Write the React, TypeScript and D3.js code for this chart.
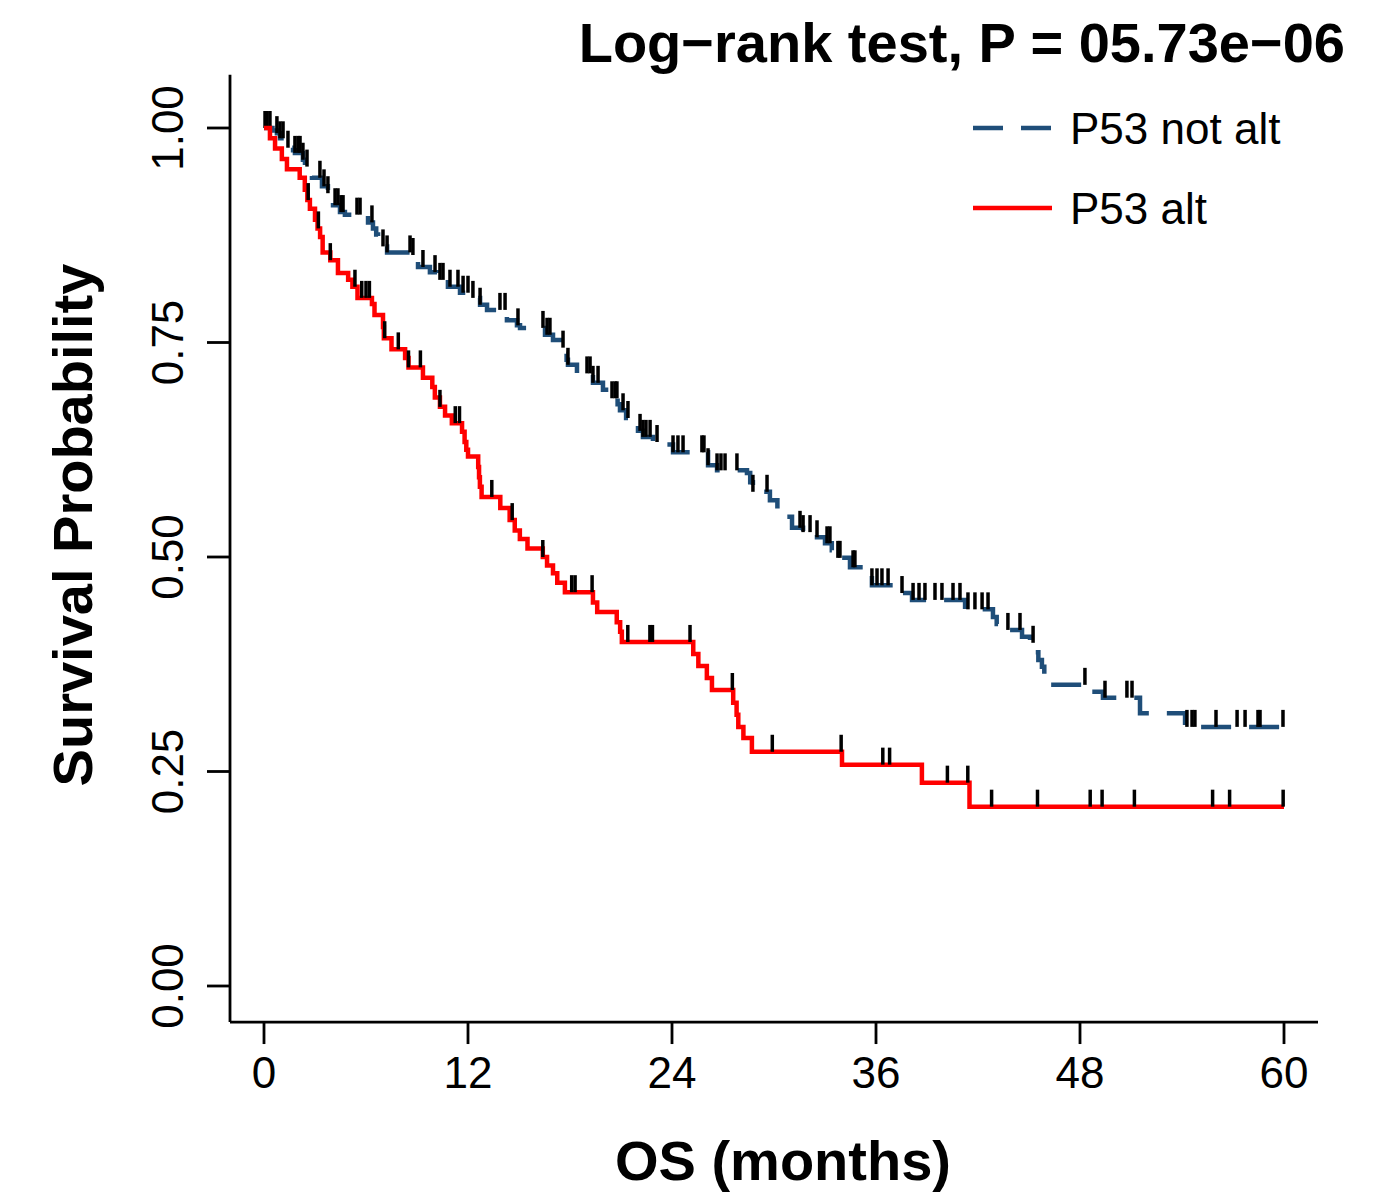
import React, { useEffect, useRef } from 'react';
import * as d3 from 'd3';

const xTicks = [0, 12, 24, 36, 48, 60];
const yTicks = [0, 0.25, 0.5, 0.75, 1];
const yTickLabels = ['0.00', '0.25', '0.50', '0.75', '1.00'];
const seriesNames = ['P53 not alt', 'P53 alt'];

// P53 not alt: event times (months) and survival after each event
const notAltTimes = [0.5, 0.76, 0.94, 1.2, 1.41, 1.71, 1.82, 2.29, 2.41, 2.6, 2.82, 3.41, 3.76, 3.95, 4.06, 4.47, 4.76, 6.12, 6.41, 6.6, 6.71, 7.0, 7.24, 8.71, 8.9, 9.06, 9.76, 10.18, 10.82, 11.53, 12.12, 12.71, 13.12, 14.29, 14.88, 15.06, 16.53, 17.0, 17.59, 17.7, 17.8, 17.88, 18.41, 19.35, 19.94, 20.47, 20.8, 20.94, 21.3, 21.65, 22.0, 22.29, 22.88, 23.29, 24.06, 26.12, 26.65, 28.41, 28.6, 28.76, 29.76, 30.2, 30.53, 31.06, 31.71, 32.24, 33.0, 33.4, 33.76, 34.47, 35.47, 35.76, 37.29, 38.12, 41.24, 42.88, 43.1, 43.29, 44.59, 45.06, 45.35, 45.55, 45.76, 45.9, 46.06, 48.59, 49.35, 51.53, 54.18];
const notAltSurv = [0.997, 0.994, 0.988, 0.982, 0.977, 0.974, 0.971, 0.963, 0.955, 0.948, 0.942, 0.932, 0.924, 0.917, 0.91, 0.902, 0.899, 0.89, 0.883, 0.876, 0.869, 0.862, 0.855, 0.852, 0.845, 0.838, 0.832, 0.823, 0.815, 0.808, 0.802, 0.794, 0.788, 0.776, 0.77, 0.767, 0.759, 0.753, 0.744, 0.737, 0.73, 0.724, 0.714, 0.703, 0.695, 0.685, 0.678, 0.671, 0.662, 0.654, 0.647, 0.64, 0.634, 0.631, 0.622, 0.607, 0.601, 0.598, 0.587, 0.576, 0.566, 0.556, 0.547, 0.534, 0.529, 0.523, 0.516, 0.508, 0.499, 0.488, 0.479, 0.467, 0.458, 0.45, 0.439, 0.43, 0.422, 0.415, 0.407, 0.4, 0.389, 0.38, 0.372, 0.361, 0.351, 0.343, 0.336, 0.318, 0.302];
const notAltCensor = [0.06, 0.18, 0.35, 0.76, 0.94, 1.12, 1.41, 1.82, 2.0, 2.12, 2.29, 2.53, 3.29, 3.53, 3.76, 4.18, 4.35, 4.53, 4.65, 5.47, 5.65, 6.35, 7.0, 7.24, 8.59, 8.76, 9.35, 10.06, 10.35, 10.53, 10.94, 11.41, 11.71, 12.0, 12.29, 12.71, 13.88, 14.18, 14.94, 16.41, 16.65, 16.82, 17.59, 17.88, 19.0, 19.18, 19.35, 19.65, 20.47, 20.65, 20.76, 21.12, 21.41, 22.12, 22.29, 22.47, 22.71, 23.12, 24.06, 24.35, 24.65, 25.76, 25.88, 26.12, 26.65, 26.88, 27.12, 27.82, 28.76, 29.59, 31.53, 31.71, 32.12, 32.53, 33.12, 33.29, 33.76, 33.88, 34.65, 34.76, 35.76, 36.06, 36.35, 36.71, 37.53, 38.18, 38.53, 38.88, 39.47, 39.88, 40.53, 40.94, 41.41, 41.82, 42.24, 42.59, 43.76, 44.47, 45.24, 48.29, 49.47, 50.76, 51.06, 54.29, 54.59, 54.76, 56.0, 57.24, 57.71, 58.47, 58.59, 59.94];

// P53 alt
const altTimes = [0.35, 0.65, 1.05, 1.35, 2.1, 2.4, 2.55, 2.7, 3.0, 3.15, 3.3, 3.45, 3.9, 4.35, 4.95, 5.2, 5.5, 6.35, 6.5, 7.0, 7.05, 7.5, 8.3, 8.5, 9.35, 9.9, 10.05, 10.35, 10.65, 11.05, 11.65, 11.8, 11.9, 12.0, 12.6, 12.65, 12.7, 12.8, 13.9, 14.45, 14.75, 15.05, 15.5, 16.4, 16.65, 17.0, 17.25, 17.7, 19.35, 19.6, 20.75, 20.95, 21.05, 25.25, 25.55, 26.05, 26.35, 27.6, 27.8, 27.9, 28.2, 28.7, 34.0, 38.7, 41.5];
const altSurv = [0.988, 0.976, 0.964, 0.952, 0.942, 0.928, 0.916, 0.906, 0.893, 0.883, 0.873, 0.855, 0.846, 0.831, 0.823, 0.815, 0.802, 0.795, 0.782, 0.768, 0.755, 0.742, 0.732, 0.721, 0.709, 0.698, 0.686, 0.675, 0.665, 0.656, 0.646, 0.634, 0.625, 0.617, 0.605, 0.593, 0.582, 0.57, 0.557, 0.543, 0.531, 0.521, 0.51, 0.5, 0.49, 0.481, 0.47, 0.459, 0.447, 0.436, 0.424, 0.413, 0.401, 0.387, 0.373, 0.359, 0.345, 0.33, 0.316, 0.302, 0.289, 0.273, 0.258, 0.237, 0.209];
const altCensor = [2.6, 3.2, 3.9, 5.35, 5.75, 6.0, 6.2, 7.1, 7.9, 8.5, 9.2, 10.35, 11.25, 11.5, 13.4, 14.6, 16.4, 18.1, 18.3, 19.3, 21.4, 22.7, 22.85, 25.06, 27.55, 29.9, 33.95, 36.4, 36.8, 40.2, 41.4, 42.8, 45.5, 48.6, 49.3, 51.2, 55.8, 56.8, 59.95];

const FONT = '"Liberation Sans", Arial, Helvetica, sans-serif';

const App = () => {
  const ref = useRef(null);

  useEffect(() => {
    document.body.style.margin = '0';
    const svg = d3.select(ref.current);
    svg.selectAll('*').remove();

    const x = d3.scaleLinear().domain([0, 60]).range([264, 1284]);
    const y = d3.scaleLinear().domain([0, 1]).range([986, 128]);

    // axes (R style "L" box)
    const axisLeft = x(-2);
    const axisBottom = y(-0.042);
    svg.append('line')
      .attr('x1', axisLeft).attr('x2', axisLeft)
      .attr('y1', y(1.062)).attr('y2', axisBottom)
      .attr('stroke', '#000').attr('stroke-width', 2.8);
    svg.append('line')
      .attr('x1', axisLeft).attr('x2', x(62))
      .attr('y1', axisBottom).attr('y2', axisBottom)
      .attr('stroke', '#000').attr('stroke-width', 2.8);

    svg.selectAll('.ytick').data(yTicks).enter().append('line')
      .attr('x1', axisLeft - 23).attr('x2', axisLeft)
      .attr('y1', d => y(d)).attr('y2', d => y(d))
      .attr('stroke', '#000').attr('stroke-width', 2.8);
    svg.selectAll('.ylab').data(yTicks).enter().append('text')
      .attr('transform', d => `translate(183,${y(d)}) rotate(-90)`)
      .attr('text-anchor', 'middle')
      .style('font-family', FONT).style('font-size', '44px')
      .text((d, i) => yTickLabels[i]);

    svg.selectAll('.xtick').data(xTicks).enter().append('line')
      .attr('x1', d => x(d)).attr('x2', d => x(d))
      .attr('y1', axisBottom).attr('y2', axisBottom + 22)
      .attr('stroke', '#000').attr('stroke-width', 2.8);
    svg.selectAll('.xlab').data(xTicks).enter().append('text')
      .attr('x', d => x(d)).attr('y', 1088)
      .attr('text-anchor', 'middle')
      .style('font-family', FONT).style('font-size', '44px')
      .text(d => d);

    // titles
    svg.append('text')
      .attr('x', 1345).attr('y', 62)
      .attr('text-anchor', 'end')
      .style('font-family', FONT).style('font-size', '56px').style('font-weight', 'bold')
      .text('Log\u2212rank test, P = 05.73e\u221206');
    svg.append('text')
      .attr('x', 783).attr('y', 1180)
      .attr('text-anchor', 'middle')
      .style('font-family', FONT).style('font-size', '56px').style('font-weight', 'bold')
      .text('OS (months)');
    svg.append('text')
      .attr('transform', 'translate(92,525) rotate(-90)')
      .attr('text-anchor', 'middle')
      .style('font-family', FONT).style('font-size', '56px').style('font-weight', 'bold')
      .text('Survival Probability');

    const series = [
      { times: notAltTimes, surv: notAltSurv, censor: notAltCensor, color: '#1F4E79', dash: '30 18' },
      { times: altTimes, surv: altSurv, censor: altCensor, color: '#FF0000', dash: null },
    ];

    const line = d3.line().x(d => x(d[0])).y(d => y(d[1])).curve(d3.curveStepAfter);

    series.forEach(s => {
      const pts = [[0, 1], ...s.times.map((t, i) => [t, s.surv[i]]), [60, s.surv[s.surv.length - 1]]];
      svg.append('path')
        .attr('d', line(pts))
        .attr('fill', 'none')
        .attr('stroke', s.color)
        .attr('stroke-width', 4.5)
        .attr('stroke-dasharray', s.dash);

      const survAt = t => {
        let v = 1;
        s.times.forEach((et, i) => { if (et <= t) v = s.surv[i]; });
        return v;
      };
      svg.append('g').selectAll('line').data(s.censor).enter().append('line')
        .attr('x1', d => x(d)).attr('x2', d => x(d))
        .attr('y1', d => y(survAt(d)))
        .attr('y2', d => y(survAt(d)) - 17)
        .attr('stroke', '#000').attr('stroke-width', 3.5);
    });

    // legend
    const legend = svg.append('g');
    series.forEach((s, i) => {
      const ly = 128 + i * 80;
      legend.append('line')
        .attr('x1', 973).attr('x2', 1052).attr('y1', ly).attr('y2', ly)
        .attr('stroke', s.color).attr('stroke-width', 4.5)
        .attr('stroke-dasharray', s.dash);
      legend.append('text')
        .attr('x', 1070).attr('y', ly + 16)
        .style('font-family', FONT).style('font-size', '44px')
        .text(seriesNames[i]);
    });
  }, []);

  return (
    <svg ref={ref} width={1373} height={1194} style={{ display: 'block', background: 'white' }}></svg>
  );
};

export default App;
